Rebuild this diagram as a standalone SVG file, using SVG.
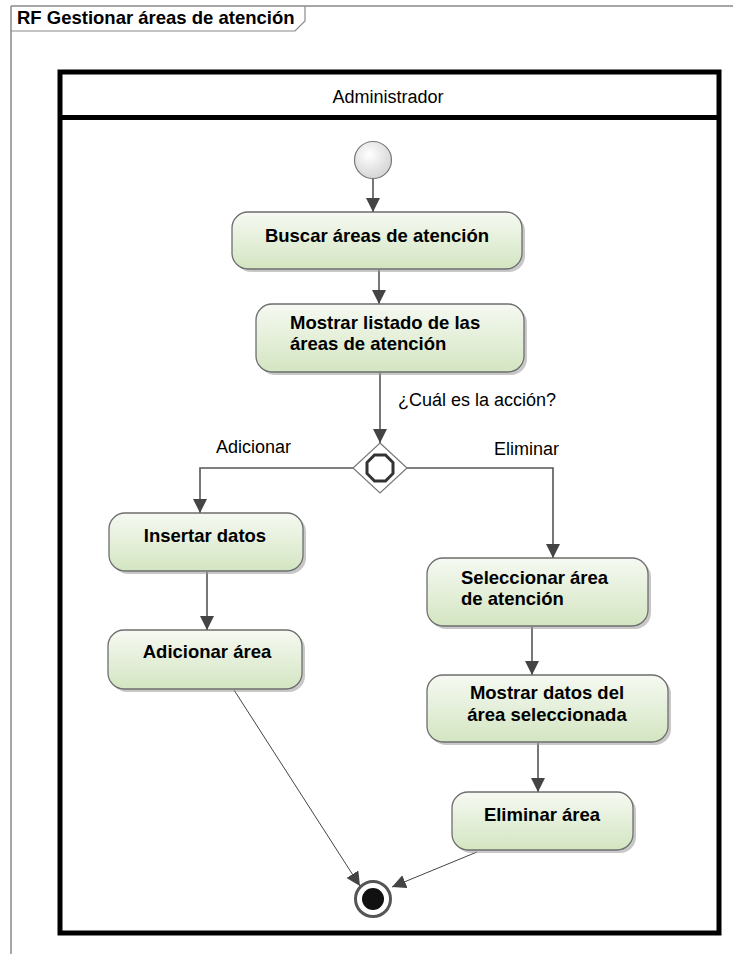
<svg xmlns="http://www.w3.org/2000/svg" width="733" height="954" viewBox="0 0 733 954">
<style>
text{font-family:"Liberation Sans",Arial,sans-serif;fill:#000}
.b{font-weight:bold;font-size:18.5px}
.r{font-size:18px}
.act{fill:url(#g);stroke:#6e6e6e;stroke-width:1.3}
.sh{fill:#9a9a9a;opacity:0.55}
.e{fill:none;stroke:#555;stroke-width:1.6}
.t{fill:none;stroke:#444;stroke-width:1}
</style>
<defs>
<linearGradient id="g" x1="0" y1="0" x2="0" y2="1">
<stop offset="0" stop-color="#f6f9f2"/>
<stop offset="1" stop-color="#d3e5c1"/>
</linearGradient>
<radialGradient id="ig" cx="0.4" cy="0.35" r="0.7">
<stop offset="0" stop-color="#ffffff"/>
<stop offset="1" stop-color="#d2d2d2"/>
</radialGradient>
<marker id="a" markerUnits="userSpaceOnUse" markerWidth="15" markerHeight="15" refX="14" refY="7" orient="auto">
<path d="M0,0 L14,7 L0,14 z" fill="#444"/>
</marker>
</defs>

<g id="frame">
<path d="M11,6 H733 M11,6 V954" fill="none" stroke="#8a8a8a" stroke-width="1.5"/>
<path d="M11,31 H295 L305,21 V6" fill="none" stroke="#8a8a8a" stroke-width="1.2"/>
<text x="17" y="24" class="b">RF Gestionar áreas de atención</text>
</g>

<g id="lane">
<rect x="60" y="72" width="659" height="861" fill="none" stroke="#000" stroke-width="5"/>
<line x1="60" y1="117.5" x2="719" y2="117.5" stroke="#000" stroke-width="5"/>
<text x="388" y="103" class="r" text-anchor="middle">Administrador</text>
</g>

<g id="connectors">
<path class="e" d="M373,179 V212" marker-end="url(#a)"/>
<path class="e" d="M379,270 V304" marker-end="url(#a)"/>
<path class="e" d="M380,373 V443" marker-end="url(#a)"/>
<path class="e" d="M353,468 H200 V513" marker-end="url(#a)"/>
<path class="e" d="M407,468 H553 V558" marker-end="url(#a)"/>
<path class="e" d="M207,572 V630" marker-end="url(#a)"/>
<path class="e" d="M532,627 V675" marker-end="url(#a)"/>
<path class="e" d="M538,743 V792" marker-end="url(#a)"/>
<path class="t" d="M234,690 L360,886" marker-end="url(#a)"/>
<path class="t" d="M477,852 L392,887" marker-end="url(#a)"/>
<text x="398" y="406" class="r">¿Cuál es la acción?</text>
<text x="216" y="453" class="r">Adicionar</text>
<text x="494" y="455" class="r">Eliminar</text>
</g>

<g id="initial">
<circle cx="373" cy="160" r="18.5" fill="url(#ig)" stroke="#777" stroke-width="1.2"/>
</g>

<g id="buscar">
<rect x="235" y="215" width="290" height="57" rx="16" class="sh"/>
<rect x="232" y="212" width="290" height="57" rx="16" class="act"/>
<text x="377" y="242" class="b" text-anchor="middle">Buscar áreas de atención</text>
</g>

<g id="mostrar-listado">
<rect x="259" y="307" width="268" height="68" rx="16" class="sh"/>
<rect x="256" y="304" width="268" height="68" rx="16" class="act"/>
<text x="290" y="329" class="b">Mostrar listado de las</text>
<text x="290" y="350" class="b">áreas de atención</text>
</g>

<g id="decision">
<path d="M380,443 L407,468 L380,493 L353,468 z" fill="#fff" stroke="#777" stroke-width="1.2"/>
<path d="M374.5,455 L385.5,455 L393,462.5 L393,473.5 L385.5,481 L374.5,481 L367,473.5 L367,462.5 z" fill="none" stroke="#333" stroke-width="3"/>
</g>

<g id="insertar">
<rect x="112" y="516" width="194" height="58" rx="16" class="sh"/>
<rect x="109" y="513" width="194" height="58" rx="16" class="act"/>
<text x="205" y="542" class="b" text-anchor="middle">Insertar datos</text>
</g>

<g id="adicionar">
<rect x="111" y="633" width="194" height="59" rx="16" class="sh"/>
<rect x="108" y="630" width="194" height="59" rx="16" class="act"/>
<text x="207" y="658" class="b" text-anchor="middle">Adicionar área</text>
</g>

<g id="seleccionar">
<rect x="430" y="561" width="221" height="68" rx="16" class="sh"/>
<rect x="427" y="558" width="221" height="68" rx="16" class="act"/>
<text x="461" y="584" class="b">Seleccionar área</text>
<text x="461" y="605" class="b">de atención</text>
</g>

<g id="mostrar-datos">
<rect x="430" y="678" width="241" height="67" rx="16" class="sh"/>
<rect x="427" y="675" width="241" height="67" rx="16" class="act"/>
<text x="547" y="699" class="b" text-anchor="middle">Mostrar datos del</text>
<text x="547" y="721" class="b" text-anchor="middle">área seleccionada</text>
</g>

<g id="eliminar">
<rect x="455" y="795" width="181" height="58" rx="16" class="sh"/>
<rect x="452" y="792" width="181" height="58" rx="16" class="act"/>
<text x="542" y="821" class="b" text-anchor="middle">Eliminar área</text>
</g>

<g id="final">
<circle cx="373" cy="899" r="17.5" fill="#fff" stroke="#555" stroke-width="3"/>
<circle cx="373" cy="899" r="11" fill="#111"/>
</g>
</svg>
